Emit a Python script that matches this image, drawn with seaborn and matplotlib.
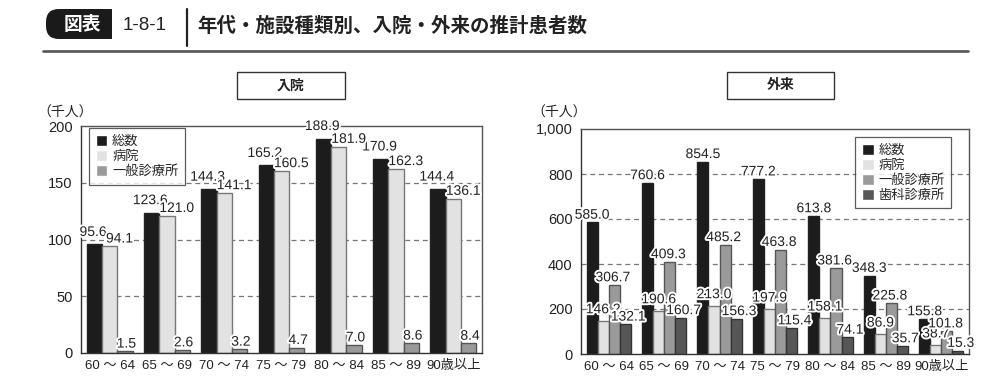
import pandas as pd
import matplotlib
matplotlib.use("Agg")
import matplotlib.pyplot as plt
import matplotlib.patheffects as pe
from matplotlib.patches import Rectangle, FancyBboxPatch
from matplotlib.lines import Line2D
from matplotlib.ticker import FuncFormatter
import seaborn as sns

# data
ages = ["60 ～ 64", "65 ～ 69", "70 ～ 74", "75 ～ 79", "80 ～ 84", "85 ～ 89", "90歳以上"]

in_types = ["総数", "病院", "一般診療所"]
in_total = [95.6, 123.6, 144.3, 165.2, 188.9, 170.9, 144.4]
in_hosp = [94.1, 121.0, 141.1, 160.5, 181.9, 162.3, 136.1]
in_clinic = [1.5, 2.6, 3.2, 4.7, 7.0, 8.6, 8.4]

out_types = ["総数", "病院", "一般診療所", "歯科診療所"]
out_total = [585.0, 760.6, 854.5, 777.2, 613.8, 348.3, 155.8]
out_hosp = [146.2, 190.6, 213.0, 197.9, 158.1, 86.9, 38.7]
out_clinic = [306.7, 409.3, 485.2, 463.8, 381.6, 225.8, 101.8]
out_dental = [132.1, 160.7, 156.3, 115.4, 74.1, 35.7, 15.3]

fill_colors = ["#1c1c1c", "#e2e2e2", "#9a9a9a", "#575757"]
edge_colors = ["#222222", "#777777", "#555555", "#333333"]

sns.set_theme(style="white")
plt.rcParams["font.family"] = ["Liberation Sans", "Noto Sans CJK JP", "DejaVu Sans"]


def long_df(types, series):
    rows = []
    for t, vals in zip(types, series):
        for a, v in zip(ages, vals):
            rows.append({"age": a, "type": t, "value": v})
    return pd.DataFrame(rows)


df_in = long_df(in_types, [in_total, in_hosp, in_clinic])
df_out = long_df(out_types, [out_total, out_hosp, out_clinic, out_dental])

fig = plt.figure(figsize=(10, 3.91), dpi=100)
W, H = 1000, 391


def fx(px):
    return px / W


def fy(py):
    return 1 - py / H


ax1 = fig.add_axes([fx(81), fy(353), fx(482 - 81), (353 - 126) / H])
ax2 = fig.add_axes([fx(581), fy(354), fx(969 - 581), (354 - 129) / H])


def draw(ax, df, types, ymax, step, label_pos, legend_kw):
    n = len(types)
    sns.barplot(data=df, x="age", y="value", hue="type", hue_order=types,
                palette=fill_colors[:n], width=0.8, ax=ax, linewidth=1.0)
    for i, cont in enumerate(ax.containers):
        for p in cont.patches:
            p.set_edgecolor(edge_colors[i])
        dx, pad = label_pos[i]
        labels = ax.bar_label(cont, fmt="%.1f", padding=pad, fontsize=10, color="#222222")
        for t in labels:
            t.set_path_effects([pe.withStroke(linewidth=2.8, foreground="white")])
            t.set_x(dx)
    ax.set_ylim(0, ymax)
    ax.set_yticks(range(0, ymax + 1, step))
    ax.yaxis.set_major_formatter(FuncFormatter(lambda v, _: f"{int(v):,}"))
    ax.set_xlim(-0.5, len(ages) - 0.5)
    ax.set_xlabel("")
    ax.set_ylabel("")
    for y in range(step, ymax, step):
        ax.axhline(y, color="#777777", lw=0.9, ls=(0, (4, 3)), zorder=0)
    ax.set_axisbelow(True)
    for s in ax.spines.values():
        s.set_visible(True)
        s.set_color("#555555")
        s.set_linewidth(1.0)
    ax.spines["left"].set_color("#333333")
    ax.spines["bottom"].set_color("#333333")
    ax.tick_params(axis="both", length=0, colors="#222222")
    ax.tick_params(axis="y", pad=6, labelsize=10.5)
    ax.tick_params(axis="x", pad=5, labelsize=9.5)
    handles, labels = ax.get_legend_handles_labels()
    leg = ax.legend(handles, labels, fontsize=9.5, frameon=True, fancybox=False,
                    handlelength=0.9, handleheight=0.9, handletextpad=0.35,
                    labelspacing=0.15, borderpad=0.5, borderaxespad=0,
                    **legend_kw)
    leg.get_frame().set_edgecolor("#333333")
    leg.get_frame().set_linewidth(0.9)


# label offsets (x shift in points, padding in points) per series, as placed in the reference
draw(ax1, df_in, in_types, 200, 50,
     [(-1, 4), (7, 0.5), (1, 0.5)],
     dict(loc="upper left", bbox_to_anchor=(0.02, 0.99)))
draw(ax2, df_out, out_types, 1000, 200,
     [(0, 0.5), (0, 3.5), (-1, 0.5), (2, 0.5)],
     dict(loc="upper right", bbox_to_anchor=(0.954, 0.964)))

# unit labels
fig.text(fx(37), fy(113), "（千人）", fontsize=10, va="center", ha="left", color="#222222")
fig.text(fx(531), fy(113), "（千人）", fontsize=10, va="center", ha="left", color="#222222")

# panel title boxes
for x0, x1, label in [(237, 345, "入院"), (727, 834, "外来")]:
    fig.add_artist(Rectangle((fx(x0), fy(99)), fx(x1 - x0), (99 - 72) / H,
                             transform=fig.transFigure, facecolor="white",
                             edgecolor="#333333", lw=1.0))
    fig.text(fx((x0 + x1) / 2), fy(85.5), label, fontsize=10, fontweight="bold",
             ha="center", va="center", color="#222222")

# header
fig.add_artist(FancyBboxPatch((fx(46), fy(39)), fx(66), (39 - 9) / H,
                              boxstyle="round,pad=0,rounding_size=0.013",
                              transform=fig.transFigure, facecolor="#1a1a1a",
                              edgecolor="none", mutation_aspect=2.56))
fig.add_artist(Rectangle((fx(90), fy(39)), fx(22), (39 - 9) / H,
                         transform=fig.transFigure, facecolor="#1a1a1a", edgecolor="none"))
fig.text(fx(82), fy(25), "図表", fontsize=13.5, fontweight="bold", color="white",
         ha="center", va="center")
fig.text(fx(123), fy(26), "1-8-1", fontsize=13.5, color="#222222", ha="left", va="center")
fig.add_artist(Line2D([fx(187), fx(187)], [fy(9), fy(46)], transform=fig.transFigure,
                      color="#222222", lw=1.6))
fig.text(fx(197), fy(26), "年代・施設種類別、入院・外来の推計患者数", fontsize=14,
         fontweight="bold", color="#222222", ha="left", va="center")
fig.add_artist(Line2D([fx(43), fx(968)], [fy(51), fy(51)], transform=fig.transFigure,
                      color="#555555", lw=1.9))

fig.savefig("out.png", dpi=100)
